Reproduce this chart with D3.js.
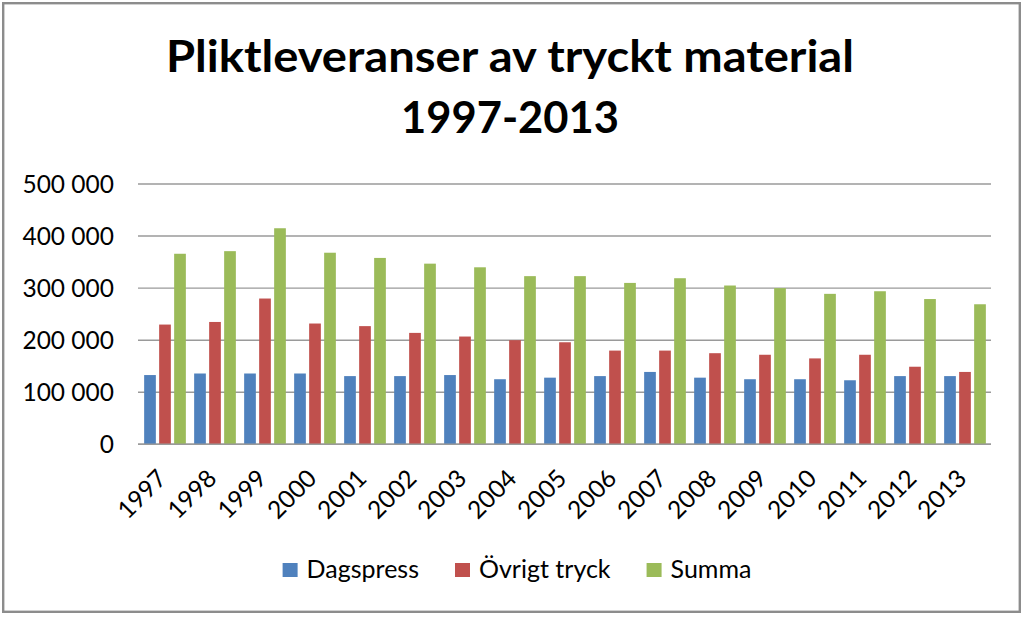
<!DOCTYPE html>
<html>
<head>
<meta charset="utf-8">
<script src="https://cdn.jsdelivr.net/npm/d3@7"></script>
<style>
  html, body { margin: 0; padding: 0; background: #fff; }
  svg { display: block; }
  text { font-family: Lato, "Open Sans", sans-serif; fill: #000; }
</style>
</head>
<body>
<svg id="chart" width="1024" height="617"></svg>
<script>
const years = ["1997","1998","1999","2000","2001","2002","2003","2004","2005","2006","2007","2008","2009","2010","2011","2012","2013"];
const seriesNames = ["Dagspress", "Övrigt tryck", "Summa"];
const dagspress = [133000,136000,136000,136000,131000,131000,133000,125000,128000,131000,139000,128000,125000,125000,123000,131000,131000];
const ovrigtTryck = [230000,235000,280000,232000,227000,214000,207000,200000,196000,180000,180000,175000,172000,165000,172000,149000,139000];
const summa = [366000,371000,415000,368000,358000,347000,340000,323000,323000,310000,319000,305000,300000,289000,294000,279000,269000];
const yTicks = [0,100000,200000,300000,400000,500000];
const titleLines = ["Pliktleveranser av tryckt material", "1997-2013"];
const colors = ["#4F81BD", "#C0504D", "#9BBB59"];

const values = [dagspress, ovrigtTryck, summa];
const svg = d3.select("#chart");

svg.append("rect").attr("x",0).attr("y",0).attr("width",1024).attr("height",617).attr("fill","#fff");
svg.append("rect").attr("x",3.2).attr("y",3.2).attr("width",1016.6).attr("height",608.6)
  .attr("fill","none").attr("stroke","#8c8c8c").attr("stroke-width",2.4);

const x = d3.scaleBand().domain(years).range([140, 990]).paddingInner(0).paddingOuter(0);
const xs = d3.scaleBand().domain(seriesNames).range([4.15, x.bandwidth() - 4.15]).paddingInner(0.22).paddingOuter(0);
const y = d3.scaleLinear().domain([0, 500000]).range([444.3, 184]);

const loc = d3.formatLocale({decimal: ",", thousands: " ", grouping: [3], currency: ["", ""]});
const fmt = loc.format(",d");

// gridlines
svg.append("g").selectAll("line").data(yTicks).join("line")
  .attr("x1", 138).attr("x2", 991)
  .attr("y1", d => y(d)).attr("y2", d => y(d))
  .attr("stroke", "#9a9a9a").attr("stroke-width", 1.4);

// y labels
const yAxis = d3.axisLeft(y).tickValues(yTicks).tickFormat(fmt).tickSize(0).tickPadding(0);
const ya = svg.append("g").attr("transform", "translate(114,0)").call(yAxis);
ya.select(".domain").remove();
ya.selectAll("text").style("font-family", "Lato, sans-serif").style("font-size", "24.5px").attr("fill", "#000").attr("dy", "0.35em");

// bars
const groups = svg.append("g").selectAll("g").data(years).join("g")
  .attr("transform", d => `translate(${x(d)},0)`);
groups.selectAll("rect").data((d, i) => seriesNames.map((s, k) => ({s, k, v: values[k][i]}))).join("rect")
  .attr("x", d => xs(d.s)).attr("width", xs.bandwidth())
  .attr("y", d => y(d.v)).attr("height", d => y(0) - y(d.v))
  .attr("fill", d => colors[d.k]);

// baseline
svg.append("line").attr("x1",138).attr("x2",991).attr("y1",y(0)).attr("y2",y(0))
  .attr("stroke","#9a9a9a").attr("stroke-width",1.6);

// x labels
const xAxis = d3.axisBottom(x).tickSize(0).tickPadding(0);
const xa = svg.append("g").call(xAxis);
xa.select(".domain").remove();
xa.selectAll(".tick").attr("transform", d => `translate(${x(d) + x.bandwidth()/2 + 3},480)`);
xa.selectAll("text").attr("y", 0).attr("dy", 0).attr("text-anchor", "end")
  .attr("transform", "rotate(-45)")
  .style("font-family", "Lato, sans-serif").style("font-size", "24.5px").attr("fill", "#000");

// title
const titleY = [72, 133];
const titleW = [688, 218];
titleLines.forEach((t, i) => {
  const el = svg.append("text").attr("x", 510).attr("y", titleY[i]).attr("text-anchor", "middle")
    .style("font-family", "Lato, sans-serif").style("font-weight", "700").style("font-size", "44px").text(t);
  const w = el.node().getComputedTextLength();
  if (Math.abs(w - titleW[i]) > 2) el.attr("textLength", titleW[i]).attr("lengthAdjust", "spacingAndGlyphs");
});

// legend
const lg = svg.append("g");
let cx = 0;
seriesNames.forEach((s, k) => {
  const g = lg.append("g");
  g.append("rect").attr("x", 0).attr("y", -15).attr("width", 15).attr("height", 14).attr("fill", colors[k]);
  const t = g.append("text").attr("x", 24).attr("y", 0).style("font-size", "25px").text(s);
  const w = 24 + t.node().getComputedTextLength();
  g.attr("transform", `translate(${cx},578)`);
  cx += w + 36;
});
const total = cx - 36;
lg.attr("transform", `translate(${517 - total/2},0)`);
</script>
</body>
</html>
